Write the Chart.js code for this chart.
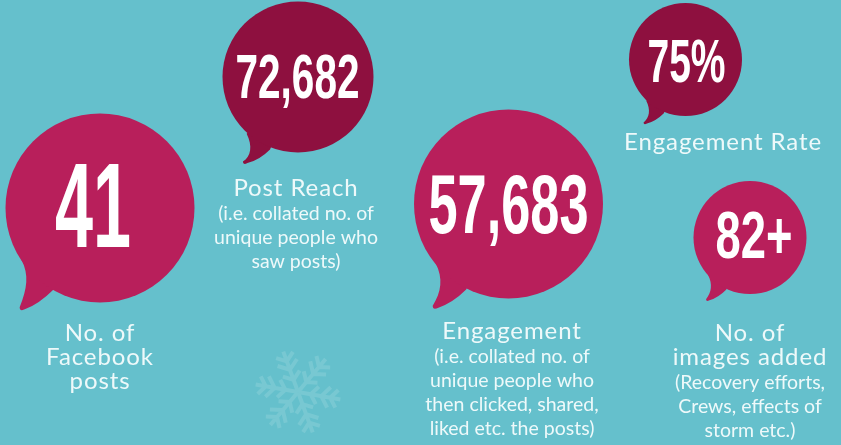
<!DOCTYPE html>
<html>
<head>
<meta charset="utf-8">
<title>Facebook stats</title>
<script src="https://cdn.jsdelivr.net/npm/chart.js@4/dist/chart.umd.min.js"></script>
<style>
    html, body { margin: 0; padding: 0; background: #65c0cc; overflow: hidden; }
    canvas { display: block; }
</style>
</head>
<body>
<canvas id="statsChart" width="841" height="445"></canvas>
<script>
// Data
const categories = ['Facebook posts', 'Post Reach', 'Engagement', 'Engagement Rate', 'Images added'];
const values = [41, 72682, 57683, 75, 82];
const valueLabels = ['41', '72,682', '57,683', '75%', '82+'];
const captions = [
    ['No. of', 'Facebook', 'posts'],
    ['Post Reach'],
    ['Engagement'],
    ['Engagement Rate'],
    ['No. of', 'images added']
];
const notes = [
    [],
    ['(i.e. collated no. of', 'unique people who', 'saw posts)'],
    ['(i.e. collated no. of', 'unique people who', 'then clicked, shared,', 'liked etc. the posts)'],
    [],
    ['(Recovery efforts,', 'Crews, effects of', 'storm etc.)']
];

// Layout: the bubbles sit on a free 841 x 445 plane, not on a value axis
const bubbleX = [100, 298, 508.5, 685.5, 750];
const bubbleY = [208, 77, 204, 59.5, 237.5];
const bubbleR = [94.5, 75.5, 94.5, 56.5, 56.5];
const bubbleColors = ['#b81f5b', '#8e103f', '#b81f5b', '#8e103f', '#b81f5b'];
// how far each tail leans towards the bubble's bottom (0..1)
const tailTilt = [0, 1, 0.4, 0.9, 0.6];
// number text: width, cap height, baseline, centre
const numberW = [76, 124, 160, 78, 77];
const numberCap = [83, 43, 57, 42, 46];
const numberBase = [247, 98, 233, 82, 258];
const numberX = [93, 297.5, 508.5, 686.5, 754];
// caption text: centre and first baseline
const captionX = [100, 296, 512, 723, 750];
const captionBase = [341, 196, 339, 150, 341];
const lineGap = 24;

const labelFont = 'Lato, "Noto Sans", sans-serif';

// bubble charts shrink the plot area by the largest radius, so the scales
// have to cover only that inner part for a value to equal its pixel
const inset = Math.max(...bubbleR);

function tail(ctx, pt, t) {
    const r = pt.options.radius;
    const mix = (a, b) => a + (b - a) * t;
    const px = (v) => pt.x + v * r;
    const py = (v) => pt.y + v * r;
    const sx = mix(-0.83, -0.68), sy = mix(0.55, 0.75);
    const tx = mix(-0.85, -0.73), ty = mix(1.05, 1.12);
    const ex = mix(-0.5, -0.37), ey = mix(0.87, 0.96);
    ctx.beginPath();
    ctx.moveTo(px(sx), py(sy));
    ctx.bezierCurveTo(px(sx + 0.08), py(sy + 0.16), px(sx + 0.06), py(sy + 0.3), px(tx), py(ty));
    ctx.quadraticCurveTo(px(tx), py(ty + 0.05), px(tx + 0.06), py(ty + 0.02));
    ctx.quadraticCurveTo(px(ex - 0.14), py(ey + 0.14), px(ex), py(ey));
    ctx.lineTo(px(0), py(0));
    ctx.closePath();
    ctx.fill();
}

function snowflake(ctx, cx, cy, size) {
    ctx.save();
    ctx.translate(cx, cy);
    ctx.rotate(10 * Math.PI / 180);
    ctx.strokeStyle = '#78c8d2';
    ctx.lineWidth = 4;
    ctx.lineCap = 'butt';
    for (let i = 0; i < 6; i++) {
        ctx.save();
        ctx.rotate(i * Math.PI / 3);
        ctx.beginPath();
        ctx.moveTo(0, 0);
        ctx.lineTo(size, 0);
        [[0.3, 0.26], [0.55, 0.3], [0.76, 0.26]].forEach(([at, len]) => {
            ctx.moveTo(size * at, 0);
            ctx.lineTo(size * (at + len * 0.6), -size * len * 0.8);
            ctx.moveTo(size * at, 0);
            ctx.lineTo(size * (at + len * 0.6), size * len * 0.8);
        });
        ctx.stroke();
        ctx.restore();
    }
    ctx.restore();
}

const speechBubbles = {
    id: 'speechBubbles',
    beforeDatasetsDraw(chart) {
        const ctx = chart.ctx;
        ctx.save();
        snowflake(ctx, chart.scales.x.getPixelForValue(298), chart.scales.y.getPixelForValue(392), 43);
        chart.getDatasetMeta(0).data.forEach((pt, i) => {
            ctx.fillStyle = bubbleColors[i];
            tail(ctx, pt, tailTilt[i]);
        });
        ctx.restore();
    },
    afterDatasetsDraw(chart) {
        const ctx = chart.ctx;
        ctx.save();
        ctx.fillStyle = '#ffffff';
        ctx.textAlign = 'center';
        ctx.textBaseline = 'alphabetic';

        // big numbers, squeezed to get the condensed look
        valueLabels.forEach((txt, i) => {
            ctx.font = 'bold ' + (numberCap[i] / 0.69) + 'px "Liberation Sans", Arial, sans-serif';
            const sx = numberW[i] / ctx.measureText(txt).width;
            ctx.save();
            ctx.translate(numberX[i], numberBase[i]);
            ctx.scale(sx, 1);
            ctx.fillText(txt, 0, 0);
            ctx.restore();
        });

        // captions and the smaller notes under them
        ctx.fillStyle = '#eef9fa';
        categories.forEach((cat, i) => {
            let y = captionBase[i];
            ctx.font = '24px ' + labelFont;
            ctx.letterSpacing = '0.9px';
            captions[i].forEach((line) => {
                ctx.fillText(line, captionX[i], y);
                y += lineGap;
            });
            ctx.font = '19.5px ' + labelFont;
            ctx.letterSpacing = '0px';
            notes[i].forEach((line) => {
                ctx.fillText(line, captionX[i], y);
                y += lineGap;
            });
        });
        ctx.restore();
    }
};

new Chart(document.getElementById('statsChart'), {
    type: 'bubble',
    data: {
        labels: categories,
        datasets: [{
            label: 'Facebook stats',
            data: values.map((v, i) => ({ x: bubbleX[i], y: bubbleY[i], r: bubbleR[i], value: v })),
            backgroundColor: bubbleColors,
            borderWidth: 0,
            clip: false
        }]
    },
    options: {
        responsive: false,
        animation: false,
        events: [],
        layout: { padding: 0 },
        scales: {
            x: { type: 'linear', display: false, min: inset, max: 841 - inset },
            y: { type: 'linear', display: false, min: inset, max: 445 - inset, reverse: true }
        },
        plugins: {
            legend: { display: false },
            tooltip: { enabled: false }
        }
    },
    plugins: [speechBubbles]
});
</script>
</body>
</html>
